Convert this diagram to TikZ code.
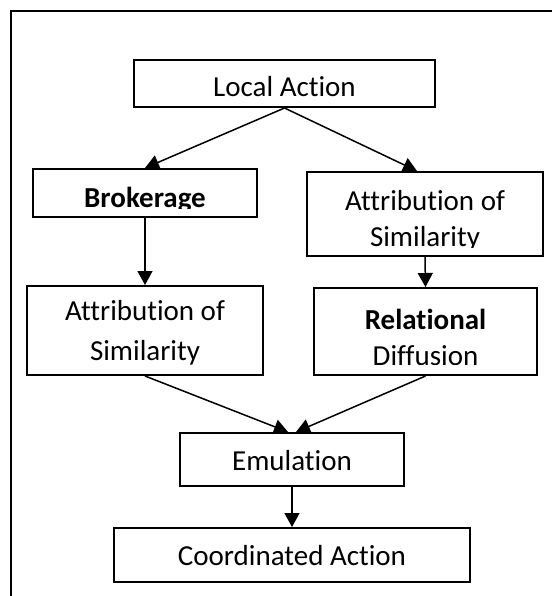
\documentclass[tikz,border=0pt]{standalone}
\usepackage{fontspec}
\setmainfont{Carlito}[Ligatures = CommonOff]
\usetikzlibrary{arrows.meta}

\begin{document}
\begin{tikzpicture}[x = 1pt , y = -1pt ,
    box/.style = {draw , line width = 2pt , inner sep = 0pt},
    lbl/.style = {font = \fontsize{29}{36}\selectfont , inner sep = 0pt , text height = 0pt , text depth = 0pt},
    arr/.style = {line width = 1.5pt , -{Triangle[length = 14pt , width = 15pt]}}]
    \useasboundingbox (0,0) rectangle (552,596);
    \draw[line width = 2.5pt] (11,596) -- (11,11) -- (552,11); % Πλαίσιο
    \node[box , minimum width = 301pt , minimum height = 47pt , label = {[lbl , yshift = -13.5pt]center:Local Action}] (local) at (284.5,83.5) {};
    \node[box , minimum width = 224pt , minimum height = 48pt , label = {[lbl , yshift = -14pt]center:\textbf{Brokerage}}] (broker) at (145,193) {};
    \node[box , minimum width = 236pt , minimum height = 84pt , label = {[lbl , yshift = 4pt]center:Attribution of} , label = {[lbl , yshift = -32pt]center:Similarity}] (simR) at (425,214) {};
    \node[box , minimum width = 236pt , minimum height = 89pt , label = {[lbl , yshift = 10pt]center:Attribution of} , label = {[lbl , yshift = -29.5pt]center:Similarity}] (simL) at (145,330.5) {};
    \node[box , minimum width = 223pt , minimum height = 87pt , label = {[lbl , yshift = 2.5pt]center:\textbf{Relational}} , label = {[lbl , yshift = -33.5pt]center:Diffusion}] (diff) at (425.5,331.5) {};
    \node[box , minimum width = 224pt , minimum height = 53pt , label = {[lbl , yshift = -10.5pt]center:Emulation}] (emul) at (292,459.5) {};
    \node[box , minimum width = 356pt , minimum height = 54pt , label = {[lbl , yshift = -10pt]center:Coordinated Action}] (coord) at (292,555) {};
    % Κομμένα γράμματα
    \fill[white] ([shift = {(2.5pt,2.5pt)}]broker.south west) rectangle ([shift = {(-2.5pt,9.5pt)}]broker.south east);
    \fill[white] ([shift = {(2.5pt,2.5pt)}]simR.south west) rectangle ([shift = {(-2.5pt,9.5pt)}]simR.south east);
    \fill[white] ([shift = {(2.5pt,2.5pt)}]simL.south west) rectangle ([shift = {(-2.5pt,11.5pt)}]simL.south east);
    \fill[white] ([shift = {(2.5pt,2.5pt)}]diff.south west) rectangle ([shift = {(-2.5pt,11.5pt)}]diff.south east);
    % Βέλη
    \draw[arr] (local.south) -- (broker.north);
    \draw[arr] (local.south) -- ([xshift = -8pt]simR.north);
    \draw[arr] (broker.south) -- (simL.north);
    \draw[arr] (simR.south) -- (diff.north);
    \draw[arr] (simL.south) -- ([xshift = -4pt]emul.north);
    \draw[arr] (diff.south) -- ([xshift = 4pt]emul.north);
    \draw[arr] (emul.south) -- (coord.north);
\end{tikzpicture}
\end{document}
